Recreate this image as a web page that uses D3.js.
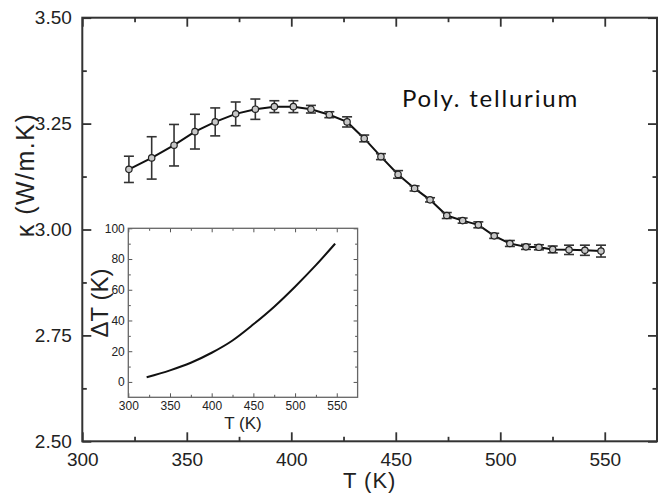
<!DOCTYPE html>
<html>
<head>
<meta charset="utf-8">
<script src="https://cdn.jsdelivr.net/npm/d3@7"></script>
<style>
  body { margin: 0; background: #fff; }
  svg { display: block; }
  .tick text { font-family: Arial, "Liberation Sans", sans-serif; fill: #222; }
</style>
</head>
<body>
<svg id="chart" width="666" height="493"></svg>
<script>
// main data: thermal conductivity vs T
var temps = [322.3, 333.2, 343.9, 353.9, 363.6, 373.4, 382.8, 391.9, 401.0, 409.4,
  418.2, 426.7, 434.9, 442.9, 451.1, 459.0, 466.4, 474.4, 482.0, 489.5,
  497.1, 504.6, 512.3, 518.5, 525.1, 532.9, 540.5, 548.2];
var kappa = [3.142, 3.169, 3.199, 3.231, 3.254, 3.273, 3.284, 3.290, 3.290, 3.284,
  3.271, 3.254, 3.215, 3.172, 3.130, 3.097, 3.070, 3.033, 3.021, 3.011,
  2.985, 2.967, 2.959, 2.958, 2.953, 2.952, 2.951, 2.949];
var kappaErr = [0.031, 0.050, 0.049, 0.041, 0.033, 0.028, 0.024, 0.014, 0.014, 0.009,
  0.007, 0.012, 0.008, 0.007, 0.009, 0.006, 0.005, 0.007, 0.006, 0.007,
  0.006, 0.007, 0.006, 0.006, 0.008, 0.011, 0.012, 0.014];

// inset data: delta T vs T
var insetT = [322, 350, 375, 400, 425, 450, 475, 500, 525, 548];
var insetDT = [3, 7.5, 12.5, 19, 27, 37.5, 49, 62, 76, 90];

var xTicks = [300, 350, 400, 450, 500, 550];
var yTicks = [2.5, 2.75, 3.0, 3.25, 3.5];
var insetXTicks = [300, 350, 400, 450, 500, 550];
var insetYTicks = [0, 20, 40, 60, 80, 100];

var svg = d3.select("#chart"),
  margin = { top: 17.7, left: 82.3, bottom: 51.7, right: 9 },
  width = +svg.attr("width"),
  height = +svg.attr("height");

var x = d3.scaleLinear().domain([300, 575]).range([margin.left, width - margin.right]);
var y = d3.scaleLinear().domain([2.5, 3.5]).range([height - margin.bottom, margin.top]);

var minorX = d3.range(325, 575, 50);
var minorY = [2.625, 2.875, 3.125, 3.375];

// boxed axes with inward ticks on all four sides, labels bottom/left only
function frame(g, xs, ys, opt) {
  var x0 = xs.range()[0], x1 = xs.range()[1], y0 = ys.range()[0], y1 = ys.range()[1];
  var sides = [
    [d3.axisBottom(xs), `translate(0,${y0})`, opt.xt, opt.xm, opt.padX, opt.fmtX],
    [d3.axisTop(xs), `translate(0,${y1})`, opt.xt, opt.xm, 0, null],
    [d3.axisLeft(ys), `translate(${x0},0)`, opt.yt, opt.ym, opt.padY, opt.fmtY],
    [d3.axisRight(ys), `translate(${x1},0)`, opt.yt, opt.ym, 0, null],
  ];
  sides.forEach(function (s) {
    var ax = g.append("g").attr("transform", s[1])
      .call(s[0].tickValues(s[2]).tickSizeInner(-opt.big).tickSizeOuter(0)
        .tickPadding(s[4]).tickFormat(s[5] || ""));
    ax.select(".domain").remove();
    ax.selectAll("text").style("font-size", opt.fs + "px");
    var mn = g.append("g").attr("transform", s[1])
      .call(s[0].tickValues(s[3]).tickSizeInner(-opt.small).tickFormat(""));
    mn.select(".domain").remove();
  });
  g.append("rect")
    .attr("class", "box")
    .attr("x", x0).attr("y", y1)
    .attr("width", x1 - x0).attr("height", y0 - y1)
    .attr("fill", "none");
  return g;
}

svg.append("rect").attr("width", width).attr("height", height).attr("fill", "#fff");

var main = svg.append("g").attr("class", "main");
frame(main, x, y, {
  xt: xTicks, xm: minorX, yt: yTicks, ym: minorY, big: 9, small: 4.5,
  padX: 11, padY: 10.5, fmtX: d3.format("d"), fmtY: d3.format(".2f"), fs: 19,
});
main.selectAll(".tick line").attr("stroke", "#333").attr("stroke-width", 1.8);
main.select("rect.box").attr("stroke", "#333").attr("stroke-width", 2);

// main series
var pts = temps.map((t, i) => ({ t: t, k: kappa[i], e: kappaErr[i] }));

main.append("path")
  .datum(pts)
  .attr("fill", "none")
  .attr("stroke", "#111")
  .attr("stroke-width", 2)
  .attr("d", d3.line().x((d) => x(d.t)).y((d) => y(d.k)));

var eb = main.selectAll("g.err").data(pts).enter().append("g").attr("class", "err")
  .attr("stroke", "#333").attr("stroke-width", 1.6);
eb.append("line")
  .attr("x1", (d) => x(d.t)).attr("x2", (d) => x(d.t))
  .attr("y1", (d) => y(d.k + d.e)).attr("y2", (d) => y(d.k - d.e));
eb.append("line")
  .attr("x1", (d) => x(d.t) - 5).attr("x2", (d) => x(d.t) + 5)
  .attr("y1", (d) => y(d.k + d.e)).attr("y2", (d) => y(d.k + d.e));
eb.append("line")
  .attr("x1", (d) => x(d.t) - 5).attr("x2", (d) => x(d.t) + 5)
  .attr("y1", (d) => y(d.k - d.e)).attr("y2", (d) => y(d.k - d.e));

main.selectAll("circle").data(pts).enter().append("circle")
  .attr("cx", (d) => x(d.t)).attr("cy", (d) => y(d.k))
  .attr("r", 3.2)
  .attr("fill", "#c8c8c8")
  .attr("stroke", "#222")
  .attr("stroke-width", 1.2);

// axis titles
main.append("text")
  .attr("x", x(437.5)).attr("y", 488)
  .attr("text-anchor", "middle")
  .style("font-family", "Arial, 'Liberation Sans', sans-serif")
  .style("font-size", "22px").style("letter-spacing", "1px").attr("fill", "#222")
  .text("T (K)");

main.append("text")
  .attr("transform", "translate(34,175) rotate(-90)")
  .attr("text-anchor", "middle")
  .style("font-family", "Arial, 'Liberation Sans', sans-serif")
  .style("font-size", "25px").style("letter-spacing", "1.5px").attr("fill", "#222")
  .text("κ (W/m.K)");

main.append("text")
  .attr("x", 402).attr("y", 106.7)
  .style("font-family", "Lato, 'Open Sans', sans-serif")
  .style("font-size", "24px").style("letter-spacing", "1.8px").attr("fill", "#111")
  .text("Poly. tellurium");

// inset
var ix = d3.scaleLinear().domain([300, 575]).range([128.3, 357.6]);
var iy = d3.scaleLinear().domain([-10, 100]).range([397.3, 228.3]);

var inset = svg.append("g").attr("class", "inset");
frame(inset, ix, iy, {
  xt: insetXTicks, xm: d3.range(325, 575, 50), yt: insetYTicks, ym: d3.range(10, 100, 20),
  big: 4, small: 2.5, padX: 4, padY: 3.5, fmtX: d3.format("d"), fmtY: d3.format("d"), fs: 12,
});
inset.selectAll(".tick line").attr("stroke", "#555").attr("stroke-width", 1);
inset.selectAll(".tick text").attr("fill", "#333");
inset.select("rect.box").attr("stroke", "#666").attr("stroke-width", 1.3);

inset.append("path")
  .datum(insetT.map((t, i) => [t, insetDT[i]]))
  .attr("fill", "none")
  .attr("stroke", "#111")
  .attr("stroke-width", 2)
  .attr("d", d3.line().x((d) => ix(d[0])).y((d) => iy(d[1])).curve(d3.curveMonotoneX));

inset.append("text")
  .attr("x", ix(437.5)).attr("y", 429)
  .attr("text-anchor", "middle")
  .style("font-family", "Arial, 'Liberation Sans', sans-serif")
  .style("font-size", "17px").attr("fill", "#222")
  .text("T (K)");

inset.append("text")
  .attr("transform", "translate(108,303) rotate(-90)")
  .attr("text-anchor", "middle")
  .style("font-family", "Arial, 'Liberation Sans', sans-serif")
  .style("font-size", "24px").attr("fill", "#222")
  .text("ΔT (K)");
</script>
</body>
</html>
